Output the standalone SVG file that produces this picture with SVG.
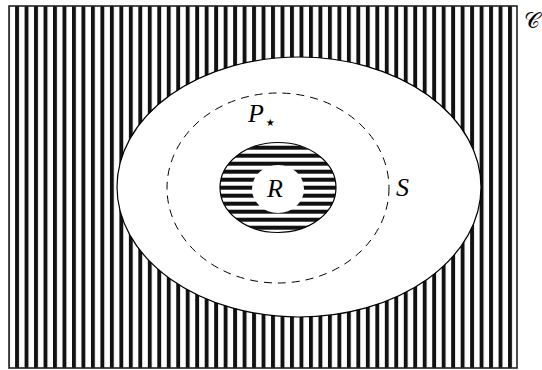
<svg xmlns="http://www.w3.org/2000/svg" width="542" height="370" viewBox="0 0 542 370">
<style>
.ln{fill:none;stroke:#000;stroke-width:1.2}
.dash{fill:none;stroke:#000;stroke-width:1;stroke-dasharray:8 6}
.m{font-family:"Liberation Serif",serif;font-style:italic;fill:#000}
</style>
<defs>
<pattern id="vl" patternUnits="userSpaceOnUse" x="15.1" y="0" width="9.48" height="10">
<rect x="0" y="0" width="3.9" height="10" fill="#111"/>
</pattern>
<pattern id="hl" patternUnits="userSpaceOnUse" x="0" y="1.7" width="10" height="8">
<rect x="0" y="0" width="10" height="4" fill="#111"/>
</pattern>
</defs>
<g id="C">
<rect x="9" y="6" width="508" height="362" fill="#fff"/>
<rect x="9" y="6" width="508" height="362" fill="url(#vl)"/>
<rect x="9" y="6" width="508" height="362" fill="none" stroke="#222" stroke-width="1.6"/>
<text class="m" x="524" y="28" font-size="22" style="font-style:normal">𝒞</text>
</g>
<g id="S">
<ellipse cx="299" cy="187" rx="182" ry="130" class="ln" style="fill:#fff"/>
<text class="m" x="396" y="196" font-size="26">S</text>
</g>
<g id="Pstar">
<ellipse class="dash" cx="278" cy="188" rx="111" ry="95"/>
<text class="m" x="248" y="122" font-size="26">P</text>
<text x="264" y="129" font-family="Liberation Serif, DejaVu Sans, serif" font-size="20" fill="#000">⋆</text>
</g>
<g id="R">
<ellipse cx="278" cy="187.5" rx="58" ry="45" fill="#fff"/>
<ellipse cx="278" cy="187.5" rx="58" ry="45" fill="url(#hl)"/>
<ellipse cx="278" cy="187.5" rx="58" ry="45" class="ln"/>
<ellipse cx="278" cy="189" rx="26" ry="24" fill="#fff"/>
<text class="m" x="267" y="197" font-size="26">R</text>
</g>
</svg>
